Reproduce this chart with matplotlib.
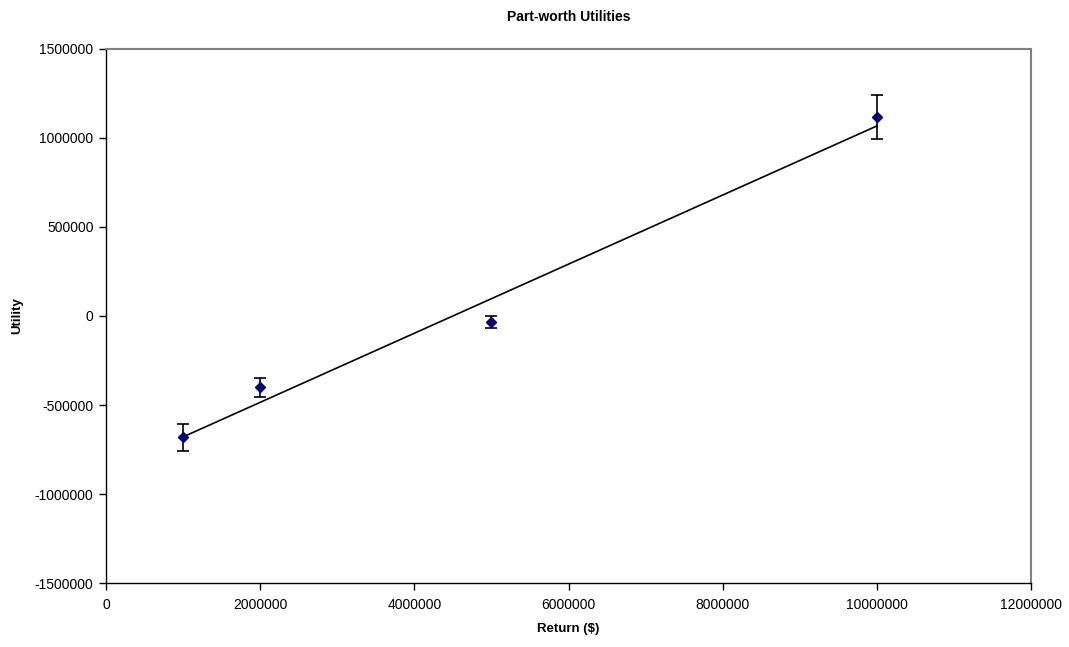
import numpy as np
import matplotlib
matplotlib.use("Agg")
import matplotlib.pyplot as plt

plt.rcParams['font.family'] = ['Liberation Sans', 'DejaVu Sans']

returns = [1000000, 2000000, 5000000, 10000000]
utility = [-681000, -400000, -35000, 1117000]
errors = [75000, 53000, 35000, 123000]

x_ticks = [0, 2000000, 4000000, 6000000, 8000000, 10000000, 12000000]
y_ticks = [-1500000, -1000000, -500000, 0, 500000, 1000000, 1500000]

fig = plt.figure(figsize=(10.69, 6.47), dpi=100)
ax = fig.add_axes([0.0992, 0.0989, 0.9645 - 0.0992, 0.9243 - 0.0989])

# linear trendline
coef = np.polyfit(returns, utility, 1)
xs = np.array([min(returns), max(returns)])
ax.plot(xs, np.polyval(coef, xs), color='black', lw=1.2, zorder=2)

ax.errorbar(returns, utility, yerr=errors, fmt='D', color='#000080',
            ms=5.5, ecolor='black', elinewidth=1.2, capsize=4, capthick=1.2, zorder=3)

ax.set_xlim(0, 12000000)
ax.set_ylim(-1500000, 1500000)
ax.set_xticks(x_ticks)
ax.set_yticks(y_ticks)
ax.set_xticklabels([str(v) for v in x_ticks], fontsize=10)
ax.set_yticklabels([str(v) for v in y_ticks], fontsize=10)
ax.tick_params(direction='out', length=5, width=1, pad=4)
ax.tick_params(axis='x', pad=6)

for s in ['left', 'bottom']:
    ax.spines[s].set_color('black')
    ax.spines[s].set_linewidth(1)
for s in ['top', 'right']:
    ax.spines[s].set_color('#808080')
    ax.spines[s].set_linewidth(1.5)

ax.set_xlabel('Return ($)', fontsize=9.5, fontweight='bold', labelpad=8)
ax.set_ylabel('Utility', fontsize=9.5, fontweight='bold', labelpad=8)
fig.suptitle('Part-worth Utilities', fontsize=10, fontweight='bold', x=0.532, y=0.985)

fig.savefig('out.png', dpi=100)
